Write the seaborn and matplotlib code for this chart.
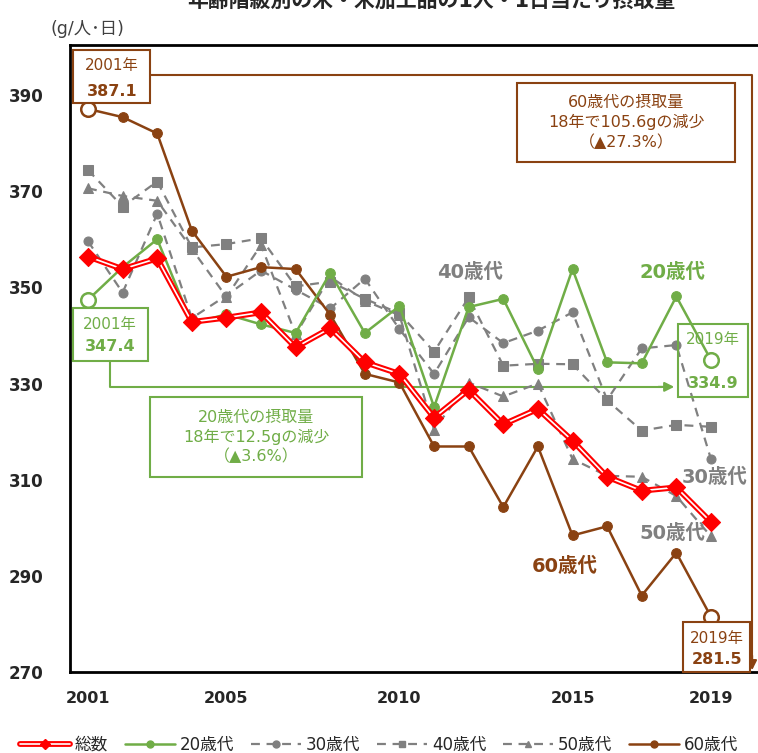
import pandas as pd
import seaborn as sns
import matplotlib.pyplot as plt
from matplotlib.lines import Line2D
from matplotlib.patches import Rectangle

# values (g/person/day)
years = list(range(2001, 2020))
total = [356.4, 353.8, 356.0, 342.8, 343.7, 344.8, 337.5, 341.5, 334.4, 332.0,
         322.9, 328.7, 321.5, 324.7, 318.1, 310.6, 307.7, 308.4, 301.2]
age20 = [347.4, 354.2, 360.0, 342.5, 344.4, 342.3, 340.5, 353.0, 340.5, 346.1,
         325.1, 345.9, 347.6, 333.0, 353.8, 334.4, 334.2, 348.1, 334.9]
age30 = [359.6, 348.9, 365.3, 343.6, 348.3, 353.5, 349.5, 345.6, 351.8, 341.3,
         332.0, 343.8, 338.4, 341.0, 344.8, 326.6, 337.3, 338.0, 314.3]
age40 = [374.4, 366.8, 372.0, 358.3, 359.0, 360.2, 350.2, 351.2, 347.6, 344.6,
         336.6, 347.9, 333.7, 334.1, 334.0, 326.5, 320.2, 321.4, 321.0]
age50 = [370.6, 369.0, 368.0, 358.0, 348.0, 358.8, 340.2, 352.2, 347.2, 344.2,
         320.4, 330.2, 327.3, 330.0, 314.3, 310.8, 310.6, 306.6, 298.2]
age60 = [387.1, 385.4, 382.0, 361.8, 352.2, 354.2, 353.8, 344.3, 332.0, 330.2,
         316.9, 316.9, 304.3, 316.9, 298.4, 300.3, 285.9, 294.8, 281.5]
labels = ["総数", "20歳代", "30歳代", "40歳代", "50歳代", "60歳代"]
xtick_labels = [2001, 2005, 2010, 2015, 2019]

RED, GREEN, GRAY, BROWN = "#FF0000", "#70AD47", "#808080", "#8A4212"

sns.set_style("white")
plt.rcParams["font.family"] = ["DejaVu Sans", "Noto Sans CJK JP"]

fig = plt.figure(figsize=(7.58, 7.53), dpi=100)
ax = fig.add_axes([70 / 758, 81 / 753, 688 / 758, 627 / 753])

dash = (0, (4, 3))
# gray dashed series
sns.lineplot(x=years, y=age30, ax=ax, color=GRAY, lw=1.6, linestyle=dash,
             marker="o", markersize=6.5, markeredgecolor=GRAY, zorder=2)
sns.lineplot(x=years, y=age40, ax=ax, color=GRAY, lw=1.6, linestyle=dash,
             marker="s", markersize=6.5, markeredgecolor=GRAY, zorder=2)
sns.lineplot(x=years, y=age50, ax=ax, color=GRAY, lw=1.6, linestyle=dash,
             marker="^", markersize=7.5, markeredgecolor=GRAY, zorder=2)

# 60歳代
sns.lineplot(x=years[1:-1], y=age60[1:-1], ax=ax, color=BROWN, lw=1.8,
             marker="o", markersize=7, markeredgecolor=BROWN, zorder=3)
sns.lineplot(x=years[:2], y=age60[:2], ax=ax, color=BROWN, lw=1.8, zorder=3)
sns.lineplot(x=years[-2:], y=age60[-2:], ax=ax, color=BROWN, lw=1.8, zorder=3)

# 20歳代
sns.lineplot(x=years[1:-1], y=age20[1:-1], ax=ax, color=GREEN, lw=1.8,
             marker="o", markersize=7, markeredgecolor=GREEN, zorder=4)
sns.lineplot(x=years[:2], y=age20[:2], ax=ax, color=GREEN, lw=1.8, zorder=4)
sns.lineplot(x=years[-2:], y=age20[-2:], ax=ax, color=GREEN, lw=1.8, zorder=4)

# 総数: double red line
sns.lineplot(x=years, y=total, ax=ax, color=RED, lw=4.2, zorder=5)
sns.lineplot(x=years, y=total, ax=ax, color="white", lw=1.2, zorder=5)
sns.scatterplot(x=years, y=total, ax=ax, color=RED, marker="D", s=85,
                edgecolor=RED, zorder=6)

# hollow end points
ends = [years[0], years[-1]]
sns.scatterplot(x=ends, y=[age20[0], age20[-1]], ax=ax, color="white",
                edgecolor=GREEN, linewidth=1.8, s=110, zorder=7)
sns.scatterplot(x=ends, y=[age60[0], age60[-1]], ax=ax, color="white",
                edgecolor=BROWN, linewidth=1.8, s=110, zorder=7)

ax.set_xlim(2000.48, 2020.36)
ax.set_ylim(270, 400.4)
ax.set_yticks(range(270, 391, 20))
ax.set_xticks(years)
ax.set_xticklabels([str(y) if y in xtick_labels else "" for y in years])
ax.tick_params(axis="y", direction="out", length=5, width=1.2, pad=14, labelsize=12)
ax.tick_params(axis="x", direction="out", length=5, width=1.2, pad=9, labelsize=11.5)
for t in ax.get_xticklabels() + ax.get_yticklabels():
    t.set_fontweight("bold")
for side in ["left", "top", "bottom"]:
    ax.spines[side].set_color("black")
    ax.spines[side].set_linewidth(2)
ax.spines["right"].set_visible(False)
ax.set_xlabel("")
ax.set_ylabel("")


def box(x0, y0, x1, y1, color, fill="white"):
    ax.add_patch(Rectangle((x0, y0), x1 - x0, y1 - y0, facecolor=fill,
                           edgecolor=color, lw=1.5, zorder=8, clip_on=False))


def txt(x, y, s, color, size=11.5, weight="normal"):
    ax.text(x, y, s, color=color, fontsize=size, fontweight=weight, ha="center",
            va="center", zorder=9, clip_on=False, linespacing=1.3)


# brown connector from 2001 box down to 2019 box
ax.plot([2002.79, 2020.19, 2020.19], [394.2, 394.2, 272.5], color=BROWN,
        lw=1.5, clip_on=False, zorder=1)
ax.annotate("", xy=(2020.19, 269.8), xytext=(2020.19, 274),
            arrowprops=dict(arrowstyle="-|>", color=BROWN, lw=1.5,
                            mutation_scale=14), annotation_clip=False)
box(2000.57, 388.34, 2002.79, 399.36, BROWN)
txt(2001.69, 396.1, "2001年", BROWN, 11)
txt(2001.69, 390.8, "387.1", BROWN, 11.5, "bold")
box(2013.40, 376.1, 2019.70, 392.5, BROWN)
txt(2016.55, 384.3, "60歳代の摂取量\n18年で105.6gの減少\n（▲27.3%）", BROWN, 11.5)
box(2018.20, 270.0, 2020.13, 280.4, BROWN)
txt(2019.18, 277.0, "2019年", BROWN, 11)
txt(2019.18, 272.5, "281.5", BROWN, 11.5, "bold")

# green connector
ax.plot([2001.64, 2001.64, 2017.6], [334.7, 329.3, 329.3], color=GREEN,
        lw=1.5, clip_on=False, zorder=1)
ax.annotate("", xy=(2018.02, 329.3), xytext=(2017.4, 329.3),
            arrowprops=dict(arrowstyle="-|>", color=GREEN, lw=1.5,
                            mutation_scale=14), annotation_clip=False)
box(2000.57, 334.7, 2002.73, 345.7, GREEN)
txt(2001.64, 342.2, "2001年", GREEN, 11)
txt(2001.64, 337.6, "347.4", GREEN, 11.5, "bold")
box(2002.79, 310.6, 2008.92, 327.2, GREEN)
txt(2005.86, 318.9, "20歳代の摂取量\n18年で12.5gの減少\n（▲3.6%）", GREEN, 11.5)
box(2018.05, 327.2, 2020.08, 342.4, GREEN, fill="none")
txt(2019.06, 339.1, "2019年", GREEN, 11)
txt(2019.06, 330.0, "334.9", GREEN, 11.5, "bold")

# series labels
txt(2012.04, 353.2, "40歳代", GRAY, 14, "bold")
txt(2017.88, 353.2, "20歳代", GREEN, 14, "bold")
txt(2019.12, 310.4, "30歳代", GRAY, 14, "bold")
txt(2017.88, 298.9, "50歳代", GRAY, 14, "bold")
txt(2014.79, 291.9, "60歳代", BROWN, 14, "bold")

# titles (the reference crops the main title at the top edge)
fig.text(0.569, 1 - 1 / 753, "年齢階級別の米・米加工品の1人・1日当たり摂取量",
         fontsize=15, fontweight="bold", ha="center", va="center")
fig.text(50 / 758, 1 - 29 / 753, "(g/人･日)", fontsize=12.5, color="#404040",
         ha="left", va="center")

# legend
handles = [
    (Line2D([], [], color=RED, lw=4.2), Line2D([], [], color="white", lw=1.2),
     Line2D([], [], color=RED, marker="D", markersize=5, lw=0)),
    Line2D([], [], color=GREEN, lw=1.8, marker="o", markersize=5),
    Line2D([], [], color=GRAY, lw=1.6, linestyle=dash, marker="o", markersize=5),
    Line2D([], [], color=GRAY, lw=1.6, linestyle=dash, marker="s", markersize=5),
    Line2D([], [], color=GRAY, lw=1.6, linestyle=dash, marker="^", markersize=5),
    Line2D([], [], color=BROWN, lw=1.8, marker="o", markersize=5),
]
fig.legend(handles, labels, loc="center", bbox_to_anchor=(0.5, 1 - 745 / 753),
           ncol=6, frameon=False, fontsize=12, handlelength=3.0,
           handletextpad=0.3, columnspacing=1.0)

fig.savefig("out.png", dpi=100)
